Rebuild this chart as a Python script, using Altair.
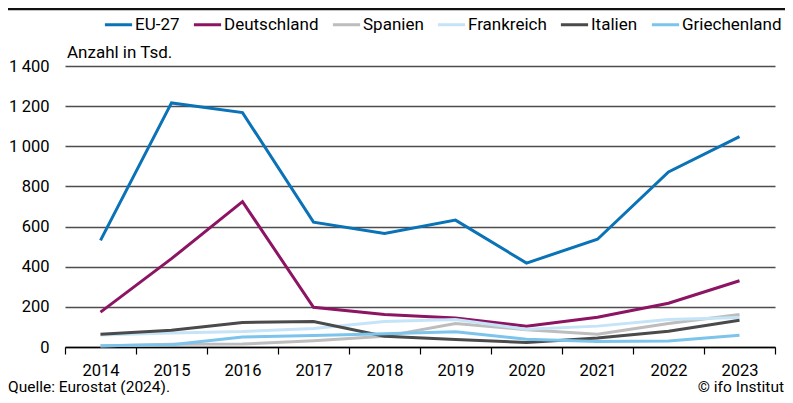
import altair as alt
import pandas as pd

years = ["2014", "2015", "2016", "2017", "2018", "2019", "2020", "2021", "2022", "2023"]
series_names = ["EU-27", "Deutschland", "Spanien", "Frankreich", "Italien", "Griechenland"]
eu27 = [531, 1216, 1168, 622, 565, 632, 418, 537, 872, 1048]
deutschland = [174, 440, 724, 198, 162, 145, 103, 148, 218, 330]
spanien = [5, 14, 15, 31, 53, 117, 86, 63, 117, 162]
frankreich = [60, 70, 77, 92, 127, 137, 88, 104, 137, 147]
italien = [63, 83, 122, 127, 54, 37, 23, 45, 78, 133]
griechenland = [6, 11, 50, 57, 66, 76, 39, 27, 30, 58]
colors = ["#0a72b6", "#8c1462", "#bdbdbd", "#c5e4f7", "#4a4a4a", "#7cc4ec"]

values = [eu27, deutschland, spanien, frankreich, italien, griechenland]
rows = []
for name, vals in zip(series_names, values):
    for y, v in zip(years, vals):
        rows.append({"Jahr": y, "Land": name, "Wert": v})
df = pd.DataFrame(rows)

FONT = "Roboto"
W, H = 710, 281

lines = alt.Chart(df).mark_line(strokeWidth=3).encode(
    x=alt.X("Jahr:O", bandPosition=0.5, sort=years,
            scale=alt.Scale(type="band", paddingInner=0, paddingOuter=0),
            axis=alt.Axis(title=None, labelAngle=0, tickBand="extent", tickSize=7,
                          tickColor="#000", tickWidth=1.2, domainColor="#000", domainWidth=1.5,
                          labelFontSize=16.5, labelColor="#000", labelPadding=8, labelFont=FONT,
                          grid=False)),
    y=alt.Y("Wert:Q", scale=alt.Scale(domain=[0, 1400], nice=False),
            axis=alt.Axis(title=None, values=[0, 200, 400, 600, 800, 1000, 1200, 1400],
                          labelExpr="replace(format(datum.value, ','), ',', '\u2009')",
                          domain=False, ticks=False, labelPadding=16,
                          labelFontSize=16.5, labelColor="#000", labelFont=FONT,
                          gridColor="#4d4d4d", gridWidth=1.5)),
    color=alt.Color("Land:N", sort=series_names,
                    scale=alt.Scale(domain=series_names, range=colors),
                    legend=alt.Legend(title=None, orient="none", direction="horizontal",
                                      legendX=38, legendY=-57, symbolType="stroke",
                                      symbolSize=740, symbolStrokeWidth=3,
                                      labelFontSize=17, labelFont=FONT, labelColor="#000",
                                      labelOffset=1, columnPadding=7)),
    order=alt.Order("Land:N"),
)

label_df = pd.DataFrame({"t": ["Anzahl in Tsd."]})
unit = alt.Chart(label_df).mark_text(align="left", baseline="middle", fontSize=17,
                                      font=FONT, color="#000").encode(
    text="t:N", x=alt.value(2), y=alt.value(-13))

src_df = pd.DataFrame({"t": ["Quelle: Eurostat (2024)."]})
src = alt.Chart(src_df).mark_text(align="left", baseline="bottom", fontSize=15.5,
                                   font=FONT, color="#000").encode(
    text="t:N", x=alt.value(-57), y=alt.value(329))

cr_df = pd.DataFrame({"t": ["\u00a9 ifo Institut"]})
cr = alt.Chart(cr_df).mark_text(align="right", baseline="bottom", fontSize=15.5,
                                  font=FONT, color="#000").encode(
    text="t:N", x=alt.value(719), y=alt.value(329))

topline = alt.Chart(label_df).mark_rule(color="#111", strokeWidth=2.5).encode(
    x=alt.value(-57), x2=alt.value(720), y=alt.value(-57))

chart = alt.layer(topline, lines, unit, src, cr).properties(
    width=W, height=H,
    autosize=alt.AutoSizeParams(type="none"),
    padding={"left": 57, "top": 58, "right": 10, "bottom": 48},
).configure_view(stroke=None)

chart.save("out.html", embed_options={"renderer": "svg", "actions": False})
